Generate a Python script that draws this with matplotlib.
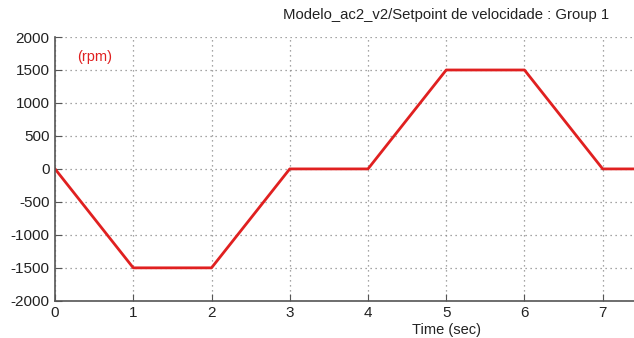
import matplotlib.pyplot as plt

plt.rcParams['font.family'] = ['Liberation Sans', 'DejaVu Sans']
plt.rcParams['axes.unicode_minus'] = False

# setpoint profile
time_s = [0, 1, 2, 3, 4, 5, 6, 7, 7.4]
speed_rpm = [0, -1500, -1500, 0, 0, 1500, 1500, 0, 0]
x_ticks = [0, 1, 2, 3, 4, 5, 6, 7]
y_ticks = [-2000, -1500, -1000, -500, 0, 500, 1000, 1500, 2000]

fig = plt.figure(figsize=(6.34, 3.38), dpi=100)
ax = fig.add_axes([0.0868, 0.110, 0.9132, 0.7805])

ax.plot(time_s, speed_rpm, color='#e02020', linewidth=2)

ax.set_xlim(0, 7.4)
ax.set_ylim(-2000, 2000)
ax.set_xticks(x_ticks)
ax.set_yticks(y_ticks)
ax.grid(True, linestyle=(0, (1, 3)), color='#888888', linewidth=0.9)

for s in ['top', 'right']:
    ax.spines[s].set_visible(False)
for s in ['left', 'bottom']:
    ax.spines[s].set_color('#555555')
    ax.spines[s].set_linewidth(1.2)
ax.tick_params(direction='in', length=5, color='#555555', labelsize=11,
               labelcolor='#222222', pad=4)

ax.text(0.51, 1700, '(rpm)', color='#e02020', fontsize=10.5, ha='center', va='center')

ax.set_xlabel('Time (sec)', fontsize=10.5, color='#222222', labelpad=2)
ax.xaxis.set_label_coords(0.677, -0.085)
fig.text(0.961, 0.955, 'Modelo_ac2_v2/Setpoint de velocidade : Group 1',
         fontsize=10.75, color='#222222', ha='right', va='center')

fig.savefig('out.png', dpi=100)
